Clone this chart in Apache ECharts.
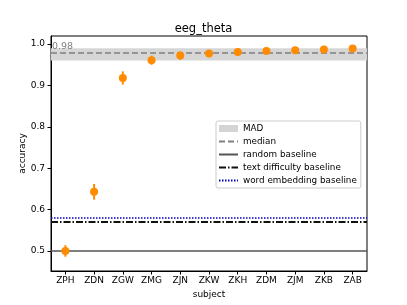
<!DOCTYPE html>
<html>
<head>
<meta charset="utf-8">
<script src="https://cdn.jsdelivr.net/npm/echarts@6/dist/echarts.min.js"></script>
<style>html,body{margin:0;padding:0;background:#fff;}#c{width:407px;height:305px;}</style>
</head>
<body>
<div id="c"></div>
<script>
const subjects = ['ZPH','ZDN','ZGW','ZMG','ZJN','ZKW','ZKH','ZDM','ZJM','ZKB','ZAB'];
const accuracy = [0.500, 0.643, 0.918, 0.961, 0.972, 0.977, 0.981, 0.983, 0.985, 0.987, 0.989];
const errors   = [0.014, 0.019, 0.016, 0.011, 0.010, 0.008, 0.008, 0.008, 0.008, 0.008, 0.008];
const yTicks = [0.5, 0.6, 0.7, 0.8, 0.9, 1.0];
const medianValue = 0.976;
const madLow = 0.960;
const madHigh = 0.9895;
const randomBaseline = 0.5;
const textDifficultyBaseline = 0.570;
const wordEmbeddingBaseline = 0.577;
const medianLabel = '0.98';

const FONT = 'DejaVu Sans';
const chart = echarts.init(document.getElementById('c'), null, {renderer: 'canvas'});

const errData = subjects.map((s, i) => [i, accuracy[i] - errors[i], accuracy[i] + errors[i]]);
const ptData = subjects.map((s, i) => [i, accuracy[i]]);

function hline(name, value, style, extraLabel) {
  return {
    name: name, type: 'line', data: [], symbol: 'none',
    lineStyle: style, itemStyle: {color: style.color},
    markLine: {
      silent: true, symbol: 'none', animation: false,
      lineStyle: style,
      label: extraLabel || {show: false},
      data: [{yAxis: value}]
    },
    z: 3
  };
}

const option = {
  animation: false,
  textStyle: {fontFamily: FONT},
  title: {
    text: 'eeg_theta', left: 'center', top: 18,
    textStyle: {fontFamily: FONT, fontSize: 11.5, fontWeight: 'normal', color: '#000'}
  },
  grid: {left: 51, right: 40, top: 36, bottom: 34, show: true, borderColor: '#000', borderWidth: 1, containLabel: false},
  legend: {
    orient: 'vertical', left: 216, top: 121,
    itemWidth: 19, itemHeight: 7, itemGap: 2, itemTextGap: 7,
    padding: [2, 4, 2, 2],
    backgroundColor: '#fff', borderColor: '#cccccc', borderWidth: 1, borderRadius: 2,
    textStyle: {fontFamily: FONT, fontSize: 8.8, color: '#000', lineHeight: 11},
    data: [
      {name: 'MAD', icon: 'rect'},
      {name: 'median', itemStyle: {opacity: 0}},
      {name: 'random baseline', itemStyle: {opacity: 0}},
      {name: 'text difficulty baseline', itemStyle: {opacity: 0}},
      {name: 'word embedding baseline', itemStyle: {opacity: 0}}
    ]
  },
  xAxis: {
    type: 'category', data: subjects, boundaryGap: true,
    name: 'subject', nameLocation: 'middle', nameGap: 17,
    nameTextStyle: {fontFamily: FONT, fontSize: 9, color: '#000'},
    axisLine: {show: true, lineStyle: {color: '#000', width: 1}},
    axisTick: {show: true, alignWithLabel: true, length: 3.5, lineStyle: {color: '#000'}},
    axisLabel: {fontFamily: FONT, fontSize: 9, color: '#000', margin: 5, interval: 0},
    splitLine: {show: false}
  },
  yAxis: {
    type: 'value', min: 0.4516, max: 1.0194,
    name: 'accuracy', nameLocation: 'middle', nameGap: 24, nameMoveOverlap: false,
    nameTextStyle: {fontFamily: FONT, fontSize: 9, color: '#000'},
    axisLine: {show: true, lineStyle: {color: '#000', width: 1}},
    axisTick: {show: true, length: 3.5, lineStyle: {color: '#000'}, customValues: yTicks},
    axisLabel: {fontFamily: FONT, fontSize: 9, color: '#000', margin: 6, customValues: yTicks,
      formatter: v => v.toFixed(1)},
    splitLine: {show: false}
  },
  series: [
    {
      name: 'MAD', type: 'line', data: [], symbol: 'none',
      itemStyle: {color: '#d4d4d4'}, lineStyle: {color: '#d4d4d4'},
      markArea: {
        silent: true, animation: false,
        itemStyle: {color: '#d6d6d6'},
        data: [[{yAxis: madLow}, {yAxis: madHigh}]]
      },
      z: 1
    },
    hline('median', medianValue, {color: '#808080', width: 1.5, type: [6, 3]}, {
      show: true, position: 'insideStartTop', formatter: medianLabel, distance: [1, 1],
      color: '#808080', fontFamily: FONT, fontSize: 9.5
    }),
    hline('random baseline', randomBaseline, {color: '#555555', width: 1.5, type: 'solid'}),
    hline('text difficulty baseline', textDifficultyBaseline, {color: '#111111', width: 2, type: [7, 2, 1.5, 2]}),
    hline('word embedding baseline', wordEmbeddingBaseline, {color: '#0000bb', width: 1.5, type: [1.5, 1.5]}),
    {
      name: 'err', type: 'custom', data: errData, z: 5,
      renderItem: function (params, api) {
        const x = api.value(0);
        const p1 = api.coord([x, api.value(1)]);
        const p2 = api.coord([x, api.value(2)]);
        return {type: 'line', shape: {x1: p1[0], y1: p1[1], x2: p2[0], y2: p2[1]},
          style: {stroke: '#ff8c00', lineWidth: 2}};
      },
      encode: {x: 0, y: [1, 2]}
    },
    {
      name: 'acc', type: 'scatter', data: ptData, symbol: 'circle', symbolSize: 8,
      itemStyle: {color: '#ff8c00', opacity: 1}, z: 6
    }
  ]
};
chart.setOption(option);
</script>
</body>
</html>
